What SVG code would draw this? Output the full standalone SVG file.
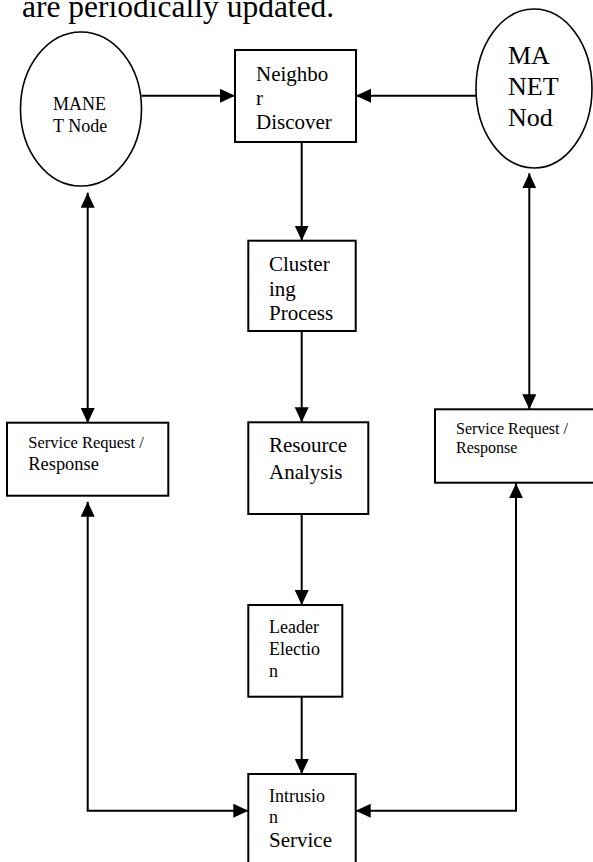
<svg xmlns="http://www.w3.org/2000/svg" width="593" height="862" viewBox="0 0 593 862">
<style>
text{font-family:"Liberation Serif","Times New Roman",serif;fill:#000}
.box{fill:#fff;stroke:#000;stroke-width:2}
.ell{fill:#fff;stroke:#000;stroke-width:1.6}
.con{fill:none;stroke:#000;stroke-width:2}
</style>
<defs>
<marker id="ah" markerUnits="userSpaceOnUse" markerWidth="16" markerHeight="15" refX="15" refY="7" orient="auto-start-reverse" viewBox="0 0 16 15">
<path d="M0,0 L15,7 L0,14 z" fill="#000"/>
</marker>
</defs>
<rect width="593" height="862" fill="#fff"/>
<text x="22" y="17" font-size="31.5">are periodically updated.</text>

<g id="connectors">
<line class="con" x1="141.5" y1="95.7" x2="235" y2="95.7" marker-end="url(#ah)"/>
<line class="con" x1="476" y1="95.7" x2="356" y2="95.7" marker-end="url(#ah)"/>
<line class="con" x1="301.7" y1="142" x2="301.7" y2="240.7" marker-end="url(#ah)"/>
<line class="con" x1="301.7" y1="331" x2="301.7" y2="422.3" marker-end="url(#ah)"/>
<line class="con" x1="301.7" y1="514" x2="301.7" y2="605" marker-end="url(#ah)"/>
<line class="con" x1="301.7" y1="697" x2="301.7" y2="774" marker-end="url(#ah)"/>
<line class="con" x1="87.7" y1="192.7" x2="87.7" y2="423" marker-start="url(#ah)" marker-end="url(#ah)"/>
<path class="con" d="M87.7,501.7 V810.7 H248.3" marker-start="url(#ah)" marker-end="url(#ah)"/>
<line class="con" x1="529.3" y1="173.3" x2="529.3" y2="409.3" marker-start="url(#ah)" marker-end="url(#ah)"/>
<path class="con" d="M516,483.3 V810.7 H355.7" marker-start="url(#ah)" marker-end="url(#ah)"/>
</g>

<g id="manet-node-left">
<ellipse class="ell" cx="81" cy="109" rx="60.5" ry="77"/>
<text x="53" y="110" font-size="18">MANE</text>
<text x="53" y="132" font-size="18">T Node</text>
</g>

<g id="neighbor-discover">
<rect class="box" x="235" y="50" width="121" height="92"/>
<text x="256" y="81" font-size="21">Neighbo</text>
<text x="256" y="105" font-size="21">r</text>
<text x="256" y="128.5" font-size="21">Discover</text>
</g>

<g id="manet-node-right">
<ellipse class="ell" cx="534" cy="88.5" rx="58" ry="79.5"/>
<text x="508" y="64" font-size="26">MA</text>
<text x="508" y="95" font-size="26">NET</text>
<text x="508" y="126" font-size="26">Nod</text>
</g>

<g id="clustering-process">
<rect class="box" x="248.3" y="240.7" width="107.4" height="90.3"/>
<text x="269" y="270.7" font-size="21">Cluster</text>
<text x="269" y="295.5" font-size="21">ing</text>
<text x="269" y="320" font-size="21">Process</text>
</g>

<g id="resource-analysis">
<rect class="box" x="248.3" y="422.3" width="120" height="91.7"/>
<text x="269" y="452.3" font-size="21">Resource</text>
<text x="269" y="479" font-size="21">Analysis</text>
</g>

<g id="leader-election">
<rect class="box" x="248.3" y="605" width="94" height="91.7"/>
<text x="269" y="632.7" font-size="18">Leader</text>
<text x="269" y="655" font-size="18">Electio</text>
<text x="269" y="676.5" font-size="18">n</text>
</g>

<g id="intrusion-service">
<rect class="box" x="248.3" y="774" width="107.4" height="100"/>
<text x="269" y="802.3" font-size="18">Intrusio</text>
<text x="269" y="823.3" font-size="18">n</text>
<text x="269" y="846.7" font-size="21">Service</text>
</g>

<g id="service-left">
<rect class="box" x="7" y="422.7" width="161.3" height="73"/>
<text x="28.3" y="448.3" font-size="16.5">Service Request /</text>
<text x="28.3" y="470" font-size="18.4">Response</text>
</g>

<g id="service-right">
<rect class="box" x="435" y="409.3" width="165" height="73.4"/>
<text x="456" y="434.3" font-size="16">Service Request /</text>
<text x="456" y="453.3" font-size="16">Response</text>
</g>
</svg>
